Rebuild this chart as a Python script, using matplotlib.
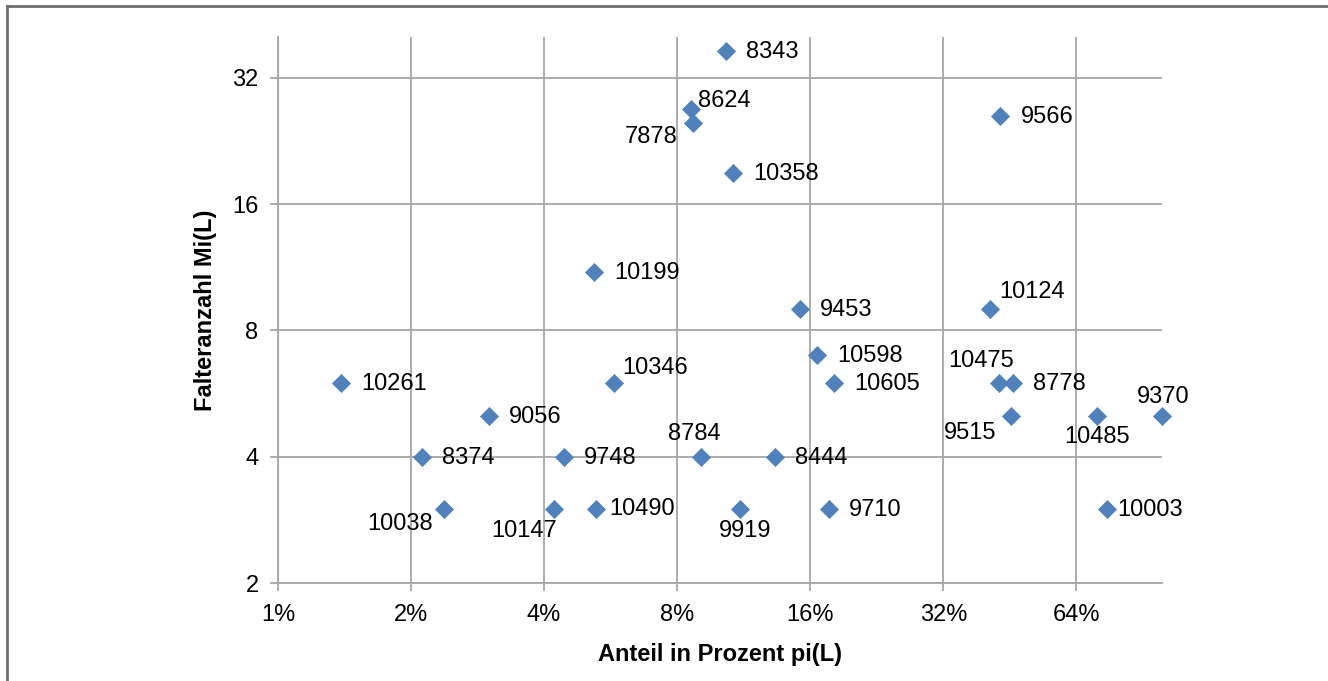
import matplotlib
matplotlib.use("Agg")
import matplotlib.pyplot as plt
from matplotlib.ticker import FixedLocator, FixedFormatter, NullLocator
from matplotlib.lines import Line2D

plt.rcParams['font.family'] = ['Liberation Sans', 'DejaVu Sans']

# Kennungen, Anteil in Prozent pi(L), Falteranzahl Mi(L)
ids = ["8343", "8624", "7878", "10358", "9566", "10199", "9453", "10124",
       "10598", "10605", "10261", "10346", "10475", "8778", "9515", "9056",
       "10485", "9370", "8374", "9748", "8784", "8444", "10038", "10147",
       "10490", "9919", "9710", "10003"]
anteil = [10.3, 8.6, 8.7, 10.7, 43.1, 5.2, 15.2, 40.9,
          16.6, 18.1, 1.39, 5.76, 42.8, 46.1, 45.5, 3.0,
          71.3, 100.0, 2.12, 4.44, 9.07, 13.3, 2.38, 4.21,
          5.25, 11.1, 17.6, 75.1]
falter = [37, 27, 25, 19, 26, 11, 9, 9,
          7, 6, 6, 6, 6, 6, 5, 5,
          5, 5, 4, 4, 4, 4, 3, 3,
          3, 3, 3, 3]

x_ticks = [1, 2, 4, 8, 16, 32, 64]
x_tick_labels = ["1%", "2%", "4%", "8%", "16%", "32%", "64%"]
y_ticks = [2, 4, 8, 16, 32]
y_tick_labels = ["2", "4", "8", "16", "32"]

FS = 17

# label placement per point: (dx px, dy px, horizontal alignment)
R = (20, -1, "left")
label_pos = {
    "8624": (7, 8, "left"), "7878": (-16, -14, "right"),
    "10124": (9, 17, "left"), "10475": (-18, 22, "center"),
    "9515": (-14, -17, "right"), "10485": (0, -21, "center"),
    "9370": (1, 19, "center"), "10003": (10, -1, "left"),
    "10346": (8, 15, "left"), "8784": (-7, 23, "center"),
    "10038": (-12, -15, "right"), "10147": (-30, -22, "center"),
    "10490": (13, 0, "left"), "9919": (5, -22, "center"),
}

fig = plt.figure(figsize=(13.28, 6.81), dpi=100)
ax = fig.add_axes([278 / 1328, 1 - 583 / 681, (1162 - 278) / 1328, (583 - 37) / 681])

grid_c = "#A6A6A6"
ax.set_xscale("log", base=2)
ax.set_yscale("log", base=2)
ax.set_xlim(1, 100)
ax.set_ylim(2, 40)

ax.xaxis.set_major_locator(FixedLocator(x_ticks))
ax.xaxis.set_major_formatter(FixedFormatter(x_tick_labels))
ax.yaxis.set_major_locator(FixedLocator(y_ticks))
ax.yaxis.set_major_formatter(FixedFormatter(y_tick_labels))
ax.xaxis.set_minor_locator(NullLocator())
ax.yaxis.set_minor_locator(NullLocator())

ax.grid(True, color=grid_c, linewidth=1.3)
ax.set_axisbelow(True)
for s in ("top", "right"):
    ax.spines[s].set_visible(False)
for s in ("left", "bottom"):
    ax.spines[s].set_color(grid_c)
    ax.spines[s].set_linewidth(1.3)
ax.tick_params(axis="both", direction="out", length=6, width=1.3, color=grid_c,
               labelsize=FS, labelcolor="black")
ax.tick_params(axis="x", pad=9)
ax.tick_params(axis="y", pad=8)

ax.scatter(anteil, falter, marker="D", s=85, color="#4F81BD", edgecolor="#4F81BD",
           linewidth=0.5, zorder=3, clip_on=False)

for name, xv, yv in zip(ids, anteil, falter):
    dx, dy, ha = label_pos.get(name, R)
    ax.annotate(name, (xv, yv), xytext=(dx, dy), textcoords="offset pixels",
                ha=ha, va="center", fontsize=FS, color="black", zorder=4)

ax.set_xlabel("Anteil in Prozent pi(L)", fontsize=FS, fontweight="bold", labelpad=12)
ax.set_ylabel("Falteranzahl Mi(L)", fontsize=FS, fontweight="bold", labelpad=11)

# outer chart frame (left and top edges)
fx0, fy1 = 6.5 / 1328, 1 - 6 / 681
fig.add_artist(Line2D([fx0, fx0], [0, fy1], transform=fig.transFigure, color="#707070", lw=2))
fig.add_artist(Line2D([fx0, 1], [fy1, fy1], transform=fig.transFigure, color="#707070", lw=2))

fig.savefig("out.png", dpi=100, facecolor="white")
